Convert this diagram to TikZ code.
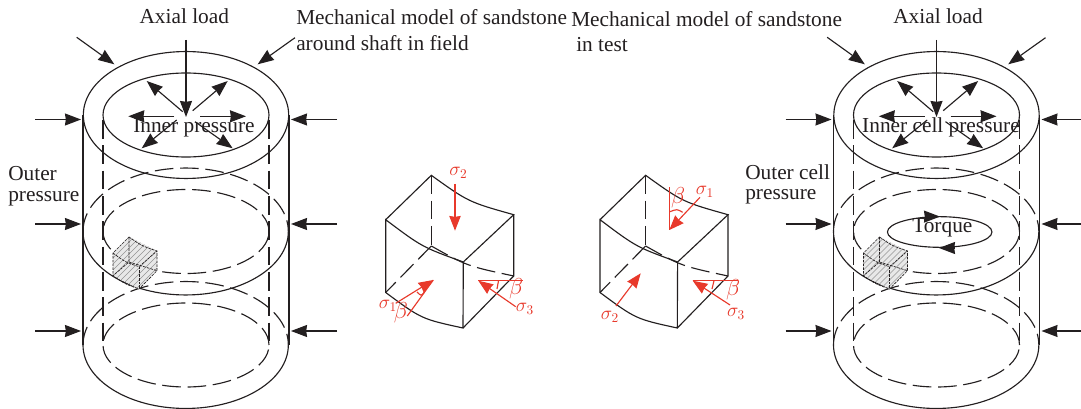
\documentclass[tikz,border=0pt]{standalone}
\usepackage{fontspec}
\setmainfont{Liberation Serif}
\usetikzlibrary{arrows.meta}
\definecolor{ink}{HTML}{231F20}
\definecolor{redink}{HTML}{E8392B}
\tikzset{
  px/.style={x=0.75pt,y=-0.75pt},
  line/.style={draw=ink,line width=0.85pt},
  dashline/.style={draw=ink,line width=0.85pt,dash pattern=on 14pt off 5pt},
  load/.style={draw=ink,line width=0.85pt,-{Stealth[length=12pt,width=9pt,inset=0.6pt]}},
  redline/.style={draw=redink,line width=0.85pt},
  redload/.style={draw=redink,line width=0.85pt,-{Stealth[length=11pt,width=8.5pt,inset=0.6pt]}},
  lab/.style={font=\fontsize{16}{19}\selectfont,text=ink,inner sep=0pt},
  redlab/.style={font=\fontsize{14}{16}\selectfont,text=redink,inner sep=0pt},
  redbeta/.style={font=\fontsize{16}{18}\selectfont,text=redink,inner sep=0pt},
  smalldash/.style={draw=ink,line width=0.5pt,dash pattern=on 2pt off 0.8pt},
  oxr/.style={x radius=77pt,y radius=47.6pt},
  ixr/.style={x radius=62.25pt,y radius=31.5pt},
}
% cylinder; #1 = free end of the right-hand side arrows
\newcommand{\cylbody}[1]{%
  \draw[line] (186,115) ellipse [oxr];
  \draw[line] (186,115) ellipse [ixr];
  \draw[line] (83,115) -- (83,345);
  \draw[line] (289,115) -- (289,345);
  \draw[dashline] (103,120) -- (103,345);
  \draw[dashline] (269,120) -- (269,345);
  \foreach \cy in {231.5,345}{
    \draw[line] (83,\cy) arc [start angle=180,end angle=360,oxr];
    \draw[dashline] (83,\cy) arc [start angle=180,end angle=0,oxr];
    \draw[dashline] (186,\cy) ellipse [ixr];
  }
  \draw[load] (76.7,37.3) -- (114.3,64.3);
  \draw[load] (295,37.7) -- (257.7,64.3);
  \foreach \ay in {119.5,224,331}{
    \draw[load] (35,\ay) -- (81,\ay);
    \draw[load] (#1,\ay) -- (291,\ay);
  }
  \draw[load] (186,40) -- (186,117);
  \draw[load] (182.7,111.7) -- (146.7,81);
  \draw[load] (192.7,110.7) -- (227.7,81);
  \draw[load] (174.3,116.3) -- (128.3,116.3);
  \draw[load] (200,116.3) -- (246,116.3);
  \draw[load] (176.7,120) -- (141.7,148.3);
  \draw[load] (195,121.7) -- (232.7,148.3);
  % small hatched cube
  \begin{scope}
    \clip (129,237) -- (157,251) -- (157,270.7) -- (139,289) -- (113,275.7) -- (113,253) -- cycle;
    \fill[gray!18] (105,230) rectangle (165,295);
    \foreach \hx in {40,46,...,160}{
      \draw[gray!85,line width=0.4pt] (\hx,295) -- (\hx+65,230);
    }
  \end{scope}
  \draw[smalldash] (129,237) .. controls (142,246) .. (157,251) -- (157,270.7) -- (139,289) .. controls (125,284) .. (113,275.7) -- (113,253) -- (129,237);
  \draw[smalldash] (113,253) .. controls (125,262) .. (139,266.7) -- (157,251);
  \draw[smalldash] (139,266.7) -- (139,289);
  \draw[smalldash] (129,237) -- (129,262) -- (113,275.7);
  \draw[smalldash] (129,262) -- (157,270.7);
}
% sandstone element, drawn at the position of the left one
\newcommand{\elem}{%
  \draw[line] (385.7,219.7) -- (431.3,175.3) .. controls (468.5,202) .. (513.7,214.7)
     -- (463.3,262) .. controls (422,247) .. (385.7,219.7) -- (385.7,292.5)
     .. controls (421.5,319) .. (463,328) -- (463.3,262);
  \draw[line] (513.7,214.7) -- (513.7,276) -- (463,328);
  \draw[dashline] (431.3,175.3) -- (431.3,246);
  \draw[dashline] (431.3,246) -- (385.7,292.5);
  \draw[dashline] (431.3,246) .. controls (467,266) .. (513.7,276);
}
\begin{document}
\begin{tikzpicture}[px]
\useasboundingbox (0,0) rectangle (1081,409);
\fill[white] (0,0) rectangle (1081,409);
% left cylinder
\cylbody{337}
% right cylinder
\begin{scope}[xshift=562.875pt]
  \cylbody{331}
\end{scope}
% torque
\draw[line] (939.7,232) ellipse [x radius=39.2pt,y radius=11.5pt];
\draw[load] (925,216.6) -- (940,216.6);
\draw[load] (954,248) -- (939,248);
% elements
\elem
\begin{scope}[xshift=160.725pt]
  \elem
\end{scope}
% red, left element
\draw[redload] (455,184) -- (455,230.7);
\draw[redload] (395.7,303.3) -- (433.3,280);
\draw[redline] (407.3,316) -- (433.3,280);
\draw[redline] (417,292) .. controls (421,296) .. (424,292.5);
\draw[redload] (515.7,306.7) -- (478.3,280.7);
\draw[redline] (478.3,280.7) -- (523.3,280.7);
\draw[redline] (498.5,280.7) .. controls (498,285) .. (497,289);
% red, right element
\draw[redload] (700,197.3) -- (669.3,230);
\draw[redline] (669.3,187.3) -- (669.3,230);
\draw[redline] (670,211.7) .. controls (677,209) .. (682.7,212.3);
\draw[redload] (616,306) -- (640.7,273.3);
\draw[redload] (730,305) -- (692.7,280.7);
\draw[redline] (692.7,280.7) -- (737.7,280.7);
\draw[redline] (714,280.7) .. controls (713.5,285) .. (712,289);
% red labels
\node[redlab] (s2a) at (458.5,173) {$\sigma_{2}$};
\node[redlab] (s1a) at (388,306) {$\sigma_{1}$};
\node[redbeta] (ba) at (401,313) {$\beta$};
\node[redlab] (s3a) at (525,309) {$\sigma_{3}$};
\node[redbeta] (bb) at (516,289) {$\beta$};
\node[redlab] (s1b) at (705,192) {$\sigma_{1}$};
\node[redbeta] (bc) at (678,198) {$\beta$};
\node[redlab] (s2b) at (610,316.7) {$\sigma_{2}$};
\node[redbeta] (bd) at (733,290) {$\beta$};
\node[redlab] (s3b) at (736,314) {$\sigma_{3}$};
% labels
\node[lab] (axa) at (184.3,16) {Axial load};
\node[lab] (axb) at (938,16) {Axial load};
\node[lab] (ina) at (194,128) {Inner pressure};
\node[lab] (inb) at (941,127) {Inner cell pressure};
\node[lab,anchor=west] (oa1) at (8,174) {Outer};
\node[lab,anchor=west] (oa2) at (8,199) {pressure};
\node[lab,anchor=west] (ob1) at (745,172) {Outer cell};
\node[lab,anchor=west] (ob2) at (745,197) {pressure};
\node[lab,anchor=west] (ma1) at (296,17) {Mechanical model of sandstone};
\node[lab,anchor=west] (ma2) at (296,43) {around shaft in field};
\node[lab,anchor=west] (mb1) at (571,19) {Mechanical model of sandstone};
\node[lab,anchor=west] (mb2) at (576,45) {in test};
\node[lab] (tq) at (942.3,228) {Torque};
\end{tikzpicture}
\end{document}
